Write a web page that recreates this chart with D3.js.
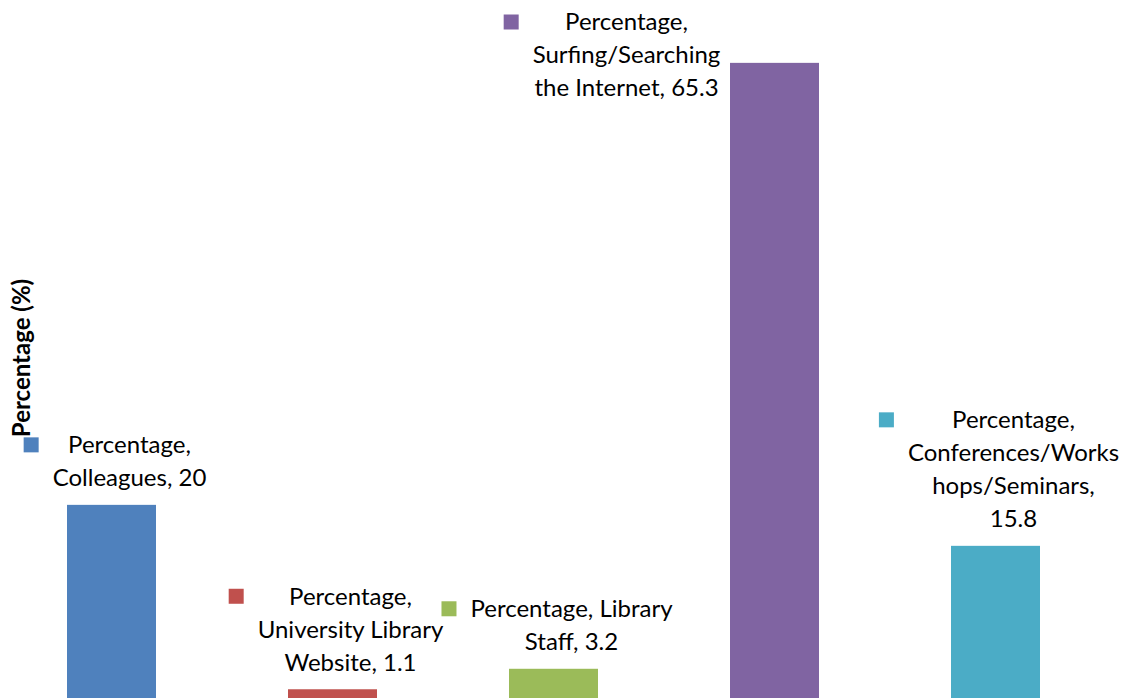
<!DOCTYPE html>
<html>
<head>
<meta charset="utf-8">
<script src="https://cdn.jsdelivr.net/npm/d3@7"></script>
<style>
  body { margin: 0; background: #fff; }
  svg { display: block; }
</style>
</head>
<body>
<div id="chart"></div>
<script>
// Data
const categories = ["Colleagues", "University Library Website", "Library Staff",
                    "Surfing/Searching the Internet", "Conferences/Workshops/Seminars"];
const values = [20, 1.1, 3.2, 65.3, 15.8];
const colors = ["#4F81BD", "#C0504D", "#9BBB59", "#8064A2", "#4BACC6"];
// data label text, already broken into lines as in the original
const labelLines = [
  ["Percentage,", "Colleagues, 20"],
  ["Percentage,", "University Library", "Website, 1.1"],
  ["Percentage, Library", "Staff, 3.2"],
  ["Percentage,", "Surfing/Searching", "the Internet, 65.3"],
  ["Percentage,", "Conferences/Works", "hops/Seminars,", "15.8"]
];

const width = 1125, height = 698;
const fontFamily = "Lato, 'Open Sans', sans-serif";
const fontSize = 24, lineH = 33;

const svg = d3.select("#chart")
  .append("svg")
  .attr("width", width)
  .attr("height", height);

// Scales (baseline sits just below the visible area)
const x = d3.scaleBand()
  .domain(categories)
  .range([1, 1106])
  .padding(0);

const y = d3.scaleLinear()
  .domain([0, 70])
  .range([700, 17]);

const barW = 89;

// Bars
svg.selectAll("rect.bar")
  .data(categories)
  .enter().append("rect")
  .attr("class", "bar")
  .attr("x", function(d) { return x(d) + (x.bandwidth() - barW) / 2; })
  .attr("y", function(d, i) { return y(values[i]); })
  .attr("width", barW)
  .attr("height", function(d, i) { return y(0) - y(values[i]); })
  .attr("fill", function(d, i) { return colors[i]; });

// Data labels
categories.forEach(function(c, i) {
  const lines = labelLines[i];
  const barCx = x(c) + x.bandwidth() / 2;
  let cx, firstY;
  if (i === 3) {
    // no room above the tallest bar: label sits to its left
    cx = barCx - 148;
    firstY = 22;
  } else {
    cx = barCx + 18;
    firstY = y(values[i]) - 27 - (lines.length - 1) * lineH;
  }

  const g = svg.append("g");
  const t = g.append("text")
    .attr("text-anchor", "middle")
    .style("font-family", fontFamily)
    .style("font-size", fontSize + "px")
    .attr("fill", "#000");

  let maxW = 0;
  lines.forEach(function(line, j) {
    const ts = t.append("tspan")
      .attr("x", cx)
      .attr("y", firstY + j * lineH)
      .attr("dy", "0.35em")
      .text(line);
    maxW = Math.max(maxW, ts.node().getComputedTextLength());
  });

  // legend key square to the left of the label block
  g.append("rect")
    .attr("x", cx - maxW / 2 - 14 - 15)
    .attr("y", firstY - 7.5)
    .attr("width", 15)
    .attr("height", 15)
    .attr("fill", colors[i]);
});

// Y axis title
svg.append("text")
  .attr("transform", "translate(22,358) rotate(-90)")
  .attr("text-anchor", "middle")
  .attr("dy", "0.35em")
  .style("font-family", fontFamily)
  .style("font-size", "24px")
  .style("font-weight", "bold")
  .text("Percentage (%)");
</script>
</body>
</html>
